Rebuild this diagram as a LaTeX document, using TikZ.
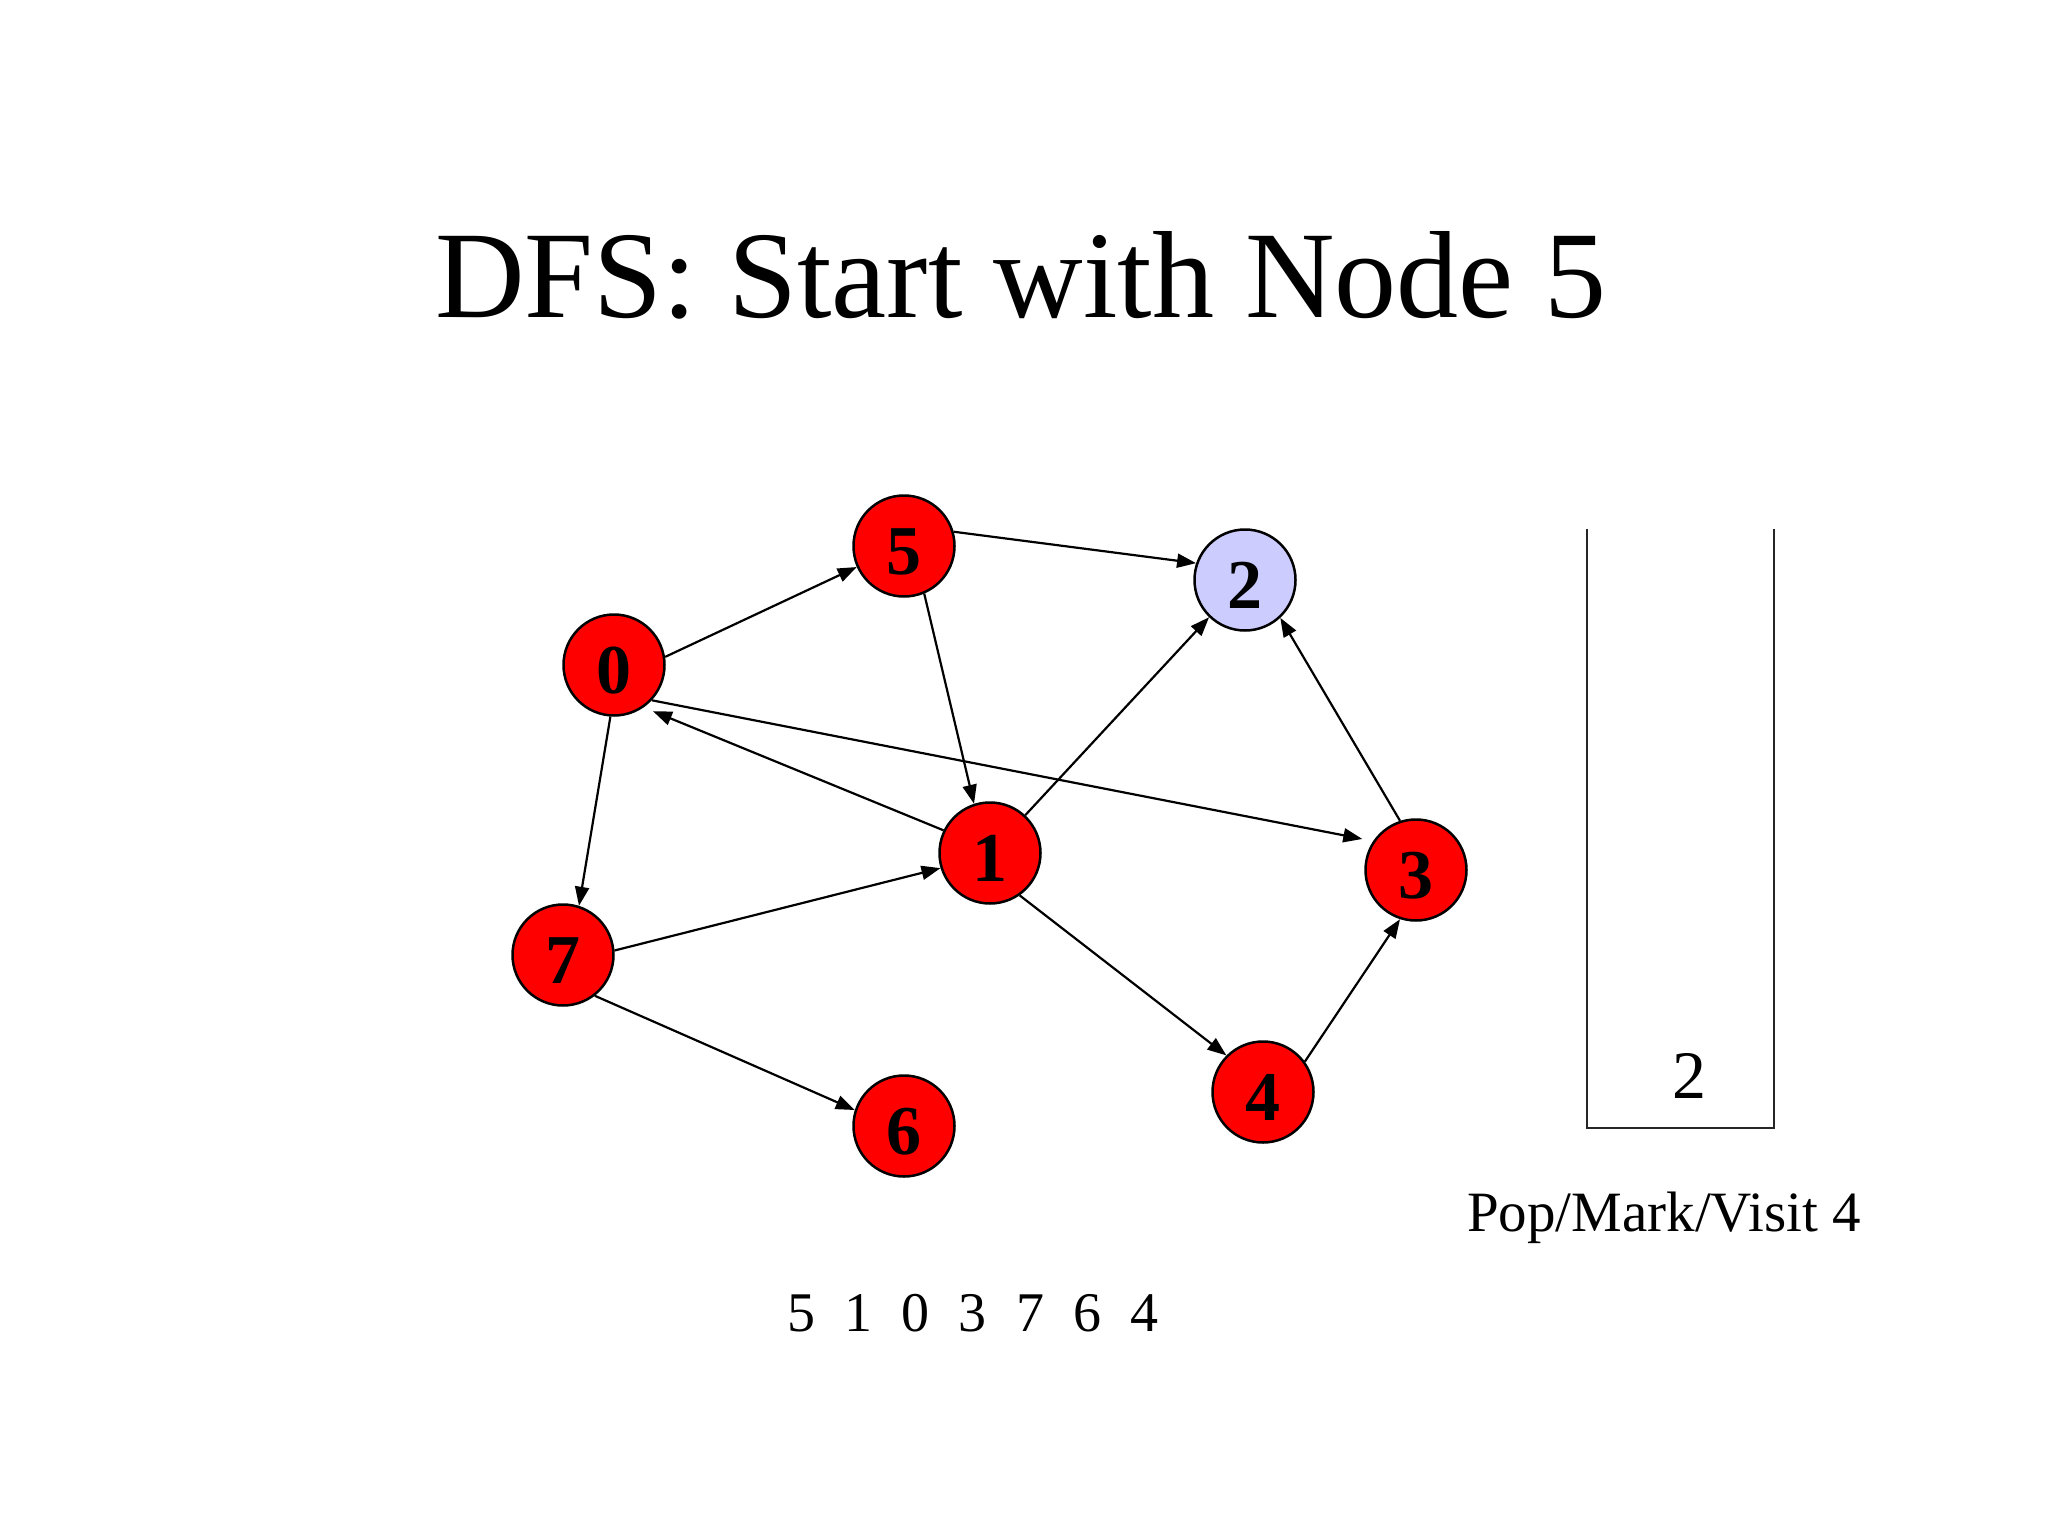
\documentclass[tikz,border=0pt]{standalone}
\usepackage{fontspec}
\setmainfont{Liberation Serif}
\usetikzlibrary{arrows.meta}
\definecolor{nodered}{RGB}{255,0,0}
\definecolor{nodeblue}{RGB}{204,204,255}
\begin{document}
\begin{tikzpicture}[x=1pt,y=-1pt,
  vert/.style={circle, draw=black, line width=2.5pt, fill=nodered, minimum size=101pt, inner sep=0pt,
    font=\fontsize{70}{70}\selectfont\bfseries, text height=57pt, text depth=0pt},
  edge/.style={line width=2.2pt, -{Triangle[length=19pt,width=14pt]}},
  txt/.style={anchor=base, inner sep=0pt},
  stackline/.style={line width=2pt, draw=black!85}
]
\fill[white] (0,0) rectangle (2048,1536);
\useasboundingbox (0,0) rectangle (2048,1536);

\node[txt, font=\fontsize{124}{124}\selectfont] (title) at (1021,317) {DFS: Start with Node 5};

\node[vert] (n5) at (904,546) {5};
\node[vert, fill=nodeblue] (n2) at (1245,580) {2};
\node[vert] (n0) at (614,665) {0};
\node[vert] (n1) at (990,853) {1};
\node[vert] (n3) at (1416,870) {3};
\node[vert] (n7) at (563,955) {7};
\node[vert] (n4) at (1263,1092) {4};
\node[vert] (n6) at (904,1126) {6};

\draw[edge] (n0.9) -- (n5.204);
\draw[edge] (n5.16) -- (n2.161);
\draw[edge] (n5.-67) -- (n1.108);
\draw[edge, shorten >=10pt] (n1.154) -- (n0.-55.5);
\draw[edge, shorten >=11pt] (n0.-43) -- (n3.146);
\draw[edge] (n0.-94) -- (n7.72);
\draw[edge] (n7.5) -- (n1.197);
\draw[edge] (n7.-52) -- (n6.162);
\draw[edge] (n1.47) -- (n2.-134);
\draw[edge] (n3.108) -- (n2.-47);
\draw[edge] (n1.-55) -- (n4.135);
\draw[edge] (n4.36) -- (n3.-108);

\coordinate (stl) at (1587,529);
\coordinate (sbl) at (1587,1128);
\coordinate (sbr) at (1774,1128);
\coordinate (str) at (1774,529);
\draw[stackline] (stl) -- (sbl) -- (sbr) -- (str);
\node[txt, font=\fontsize{68}{68}\selectfont] (top) at (1689,1098) {2};

\node[txt, font=\fontsize{57}{57}\selectfont] (op) at (1664,1231) {Pop/Mark/Visit 4};

\node[txt, font=\fontsize{56}{56}\selectfont] (seq) at (973,1331) {\spaceskip=29.3pt 5 1 0 3 7 6 4};
\end{tikzpicture}
\end{document}
